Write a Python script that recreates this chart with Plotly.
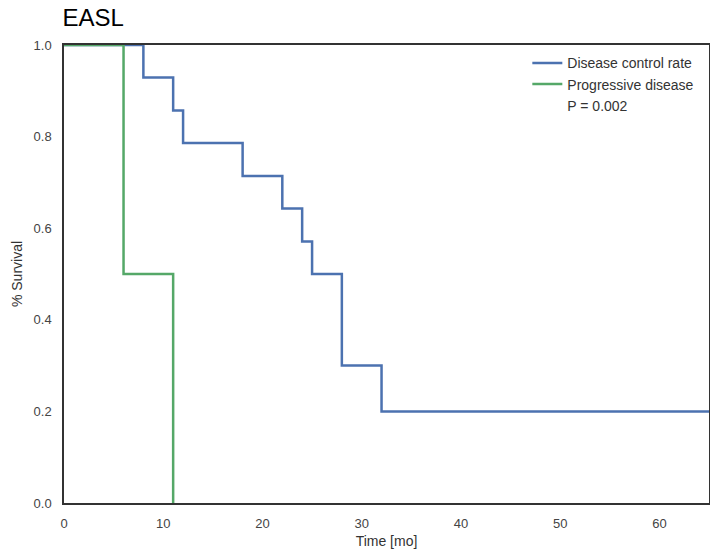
import plotly.graph_objects as go

# Disease control rate (Kaplan-Meier steps)
dcr_time = [0, 8, 11, 12, 18, 22, 24, 25, 28, 32, 65]
dcr_surv = [1.0, 0.929, 0.857, 0.786, 0.714, 0.643, 0.571, 0.5, 0.3, 0.2, 0.2]

# Progressive disease
pd_time = [0, 6, 11]
pd_surv = [1.0, 0.5, 0.0]

x_ticks = [0, 10, 20, 30, 40, 50, 60]
y_ticks = [0.0, 0.2, 0.4, 0.6, 0.8, 1.0]

fig = go.Figure()
fig.add_trace(go.Scatter(x=dcr_time, y=dcr_surv, mode="lines", line_shape="hv",
                         line=dict(color="#4c72b0", width=2.5), name="Disease control rate"))
fig.add_trace(go.Scatter(x=pd_time, y=pd_surv, mode="lines", line_shape="hv",
                         line=dict(color="#55a868", width=2.5), name="Progressive disease"))
fig.add_trace(go.Scatter(x=[None], y=[None], mode="lines",
                         line=dict(color="rgba(0,0,0,0)", width=2.5), name="P = 0.002"))

fig.update_layout(
    width=710, height=556,
    margin=dict(l=64, r=1, t=45, b=53, autoexpand=False),
    paper_bgcolor="white", plot_bgcolor="white",
    font=dict(family="Liberation Sans, Arial, sans-serif", color="#333333", size=13),
    title=dict(text="EASL", x=0.088, xanchor="left", y=0.968, yanchor="middle",
               font=dict(size=24, color="black")),
    legend=dict(x=0.985, xanchor="right", y=0.995, yanchor="top",
                bgcolor="rgba(0,0,0,0)", font=dict(size=14, color="#333333")),
    showlegend=True,
)
fig.update_xaxes(range=[0, 65], tickvals=x_ticks, showgrid=False, zeroline=False,
                 showline=True, linecolor="#333333", linewidth=1.5, mirror=True,
                 ticks="", ticklabelstandoff=8, tickfont=dict(size=13, color="#444444"),
                 title=dict(text="Time [mo]", font=dict(size=14, color="#333333"), standoff=6))
fig.update_yaxes(range=[0, 1], tickvals=y_ticks, tickformat=".1f", showgrid=False, zeroline=False,
                 showline=True, linecolor="#333333", linewidth=1.5, mirror=True,
                 ticks="", ticklabelstandoff=8, tickfont=dict(size=13, color="#444444"),
                 title=dict(text="% Survival", font=dict(size=14, color="#333333"), standoff=8))

fig.write_html("out.html", config={"displayModeBar": False},
               post_script="document.body.style.margin='0';document.body.style.overflow='hidden';")
